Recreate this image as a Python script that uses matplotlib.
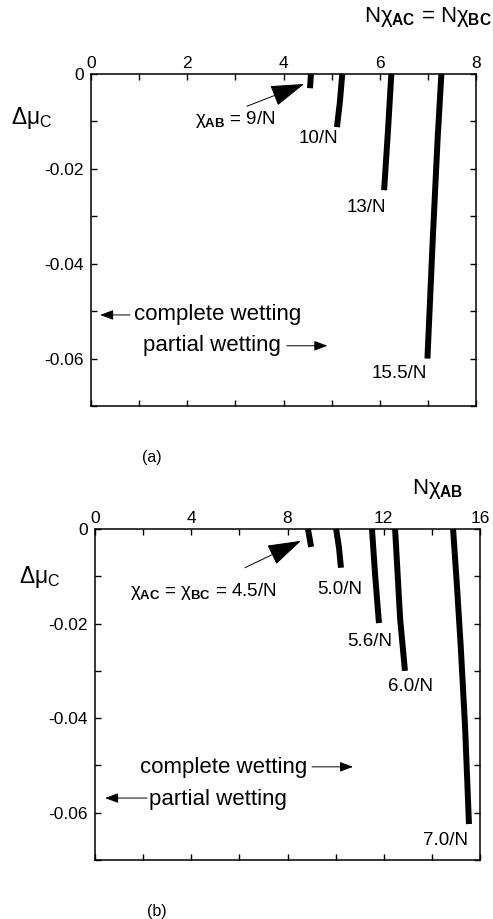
import matplotlib.pyplot as plt
import numpy as np

plt.rcParams['font.family'] = ['Liberation Sans', 'DejaVu Sans']
plt.rcParams['mathtext.fontset'] = 'custom'
plt.rcParams['mathtext.rm'] = 'Liberation Sans'
plt.rcParams['mathtext.it'] = 'Liberation Sans'
plt.rcParams['mathtext.bf'] = 'Liberation Sans:bold'

# (a) wetting transition lines, N chi_AC = N chi_BC vs delta mu_C, for several chi_AB
a_labels = ['9/N', '10/N', '13/N', '15.5/N']
a_x = [[4.57, 4.55],
       [5.22, 5.17, 5.11],
       [6.24, 6.17, 6.09],
       [7.28, 7.20, 7.10, 6.99]]
a_y = [[0, -0.003],
       [0, -0.006, -0.0112],
       [0, -0.012, -0.0245],
       [0, -0.014, -0.035, -0.060]]

# (b) wetting transition lines, N chi_AB vs delta mu_C, for several chi_AC = chi_BC
b_labels = ['4.5/N', '5.0/N', '5.6/N', '6.0/N', '7.0/N']
b_x = [[8.85, 8.98],
       [10.02, 10.14, 10.22],
       [11.51, 11.64, 11.80],
       [12.47, 12.68, 12.88],
       [14.88, 15.04, 15.20, 15.38, 15.54]]
b_y = [[0, -0.0038],
       [0, -0.004, -0.0082],
       [0, -0.0097, -0.0199],
       [0, -0.019, -0.030],
       [0, -0.012, -0.025, -0.042, -0.0624]]

fig = plt.figure(figsize=(4.93, 9.19), dpi=100)
ax1 = fig.add_axes([0.1846, 0.5582, 0.781, 0.3613])
ax2 = fig.add_axes([0.1927, 0.0642, 0.781, 0.3602])


def style_axes(ax, xmax, xmajor, xminor):
    ax.set_xlim(0, xmax)
    ax.set_ylim(-0.07, 0)
    ax.xaxis.tick_top()
    ax.set_xticks(np.arange(0, xmax + 0.01, xmajor))
    ax.set_xticks(np.arange(0, xmax + 0.01, xminor), minor=True)
    ax.set_yticks([0, -0.02, -0.04, -0.06])
    ax.set_yticklabels(['0', '-0.02', '-0.04', '-0.06'])
    ax.set_yticks(np.arange(-0.07, 0.001, 0.01), minor=True)
    ax.tick_params(which='both', direction='in', top=True, bottom=True,
                   left=True, right=True, length=4, width=1)
    ax.tick_params(axis='x', which='major', labelsize=12.5, pad=2)
    ax.tick_params(axis='y', which='major', labelsize=12.5, pad=5)
    for s in ax.spines.values():
        s.set_linewidth(1.1)


style_axes(ax1, 8, 2, 1)
style_axes(ax2, 16, 4, 2)

for xs, ys in zip(a_x, a_y):
    ax1.plot(xs, ys, color='black', lw=4.3, solid_capstyle='butt', clip_on=False)
for xs, ys in zip(b_x, b_y):
    ax2.plot(xs, ys, color='black', lw=4.3, solid_capstyle='butt', clip_on=False)

big_head = dict(arrowstyle='-|>,head_length=1.2,head_width=0.38', lw=0.7,
                color='black', mutation_scale=18, shrinkA=0, shrinkB=0)
small_head = dict(arrowstyle='-|>,head_length=0.8,head_width=0.3', lw=0.7,
                  color='black', mutation_scale=10, shrinkA=0, shrinkB=0)

# panel (a) labels
ax1.text(2.99, -0.0097, r'$\chi_{\mathbf{AB}}$ = 9/N', fontsize=13.5, ha='center', va='center')
ax1.annotate('', xy=(4.43, -0.0021), xytext=(3.24, -0.0068), arrowprops=big_head)
ax1.text(4.72, -0.0135, a_labels[1], fontsize=13.5, ha='center', va='center')
ax1.text(5.72, -0.0281, a_labels[2], fontsize=13.5, ha='center', va='center')
ax1.text(6.40, -0.0632, a_labels[3], fontsize=13.5, ha='center', va='center')
ax1.text(2.64, -0.0508, 'complete wetting', fontsize=16, ha='center', va='center')
ax1.annotate('', xy=(0.19, -0.0508), xytext=(0.81, -0.0508), arrowprops=small_head)
ax1.text(2.52, -0.0573, 'partial wetting', fontsize=16, ha='center', va='center')
ax1.annotate('', xy=(4.91, -0.0573), xytext=(4.07, -0.0573), arrowprops=small_head)

# panel (b) labels
ax2.text(4.49, -0.0133, r'$\chi_{\mathbf{AC}}$ = $\chi_{\mathbf{BC}}$ = 4.5/N', fontsize=13.5,
         ha='center', va='center')
ax2.annotate('', xy=(8.56, -0.0025), xytext=(6.23, -0.0082), arrowprops=big_head)
ax2.text(10.18, -0.0129, b_labels[1], fontsize=13.5, ha='center', va='center')
ax2.text(11.43, -0.0239, b_labels[2], fontsize=13.5, ha='center', va='center')
ax2.text(13.13, -0.0334, b_labels[3], fontsize=13.5, ha='center', va='center')
ax2.text(14.55, -0.0658, b_labels[4], fontsize=13.5, ha='center', va='center')
ax2.text(5.36, -0.0505, 'complete wetting', fontsize=16, ha='center', va='center')
ax2.annotate('', xy=(10.72, -0.0503), xytext=(9.02, -0.0503), arrowprops=small_head)
ax2.text(5.11, -0.0573, 'partial wetting', fontsize=16, ha='center', va='center')
ax2.annotate('', xy=(0.42, -0.0569), xytext=(2.16, -0.0569), arrowprops=small_head)

# axis titles
fig.text(0.998, 0.981, r'N$\chi_{\mathbf{AC}}$ = N$\chi_{\mathbf{BC}}$', fontsize=16,
         ha='right', va='center')
fig.text(0.022, 0.872, r'$\Delta\mu_{\mathrm{C}}$', fontsize=16.5, ha='left', va='center')
fig.text(0.836, 0.468, r'N$\chi_{\mathbf{AB}}$', fontsize=16, ha='left', va='center')
fig.text(0.038, 0.372, r'$\Delta\mu_{\mathrm{C}}$', fontsize=16.5, ha='left', va='center')

fig.text(0.308, 0.502, '(a)', fontsize=11.5, ha='center', va='center')
fig.text(0.318, 0.008, '(b)', fontsize=11.5, ha='center', va='center')

fig.savefig('out.png', dpi=100)
